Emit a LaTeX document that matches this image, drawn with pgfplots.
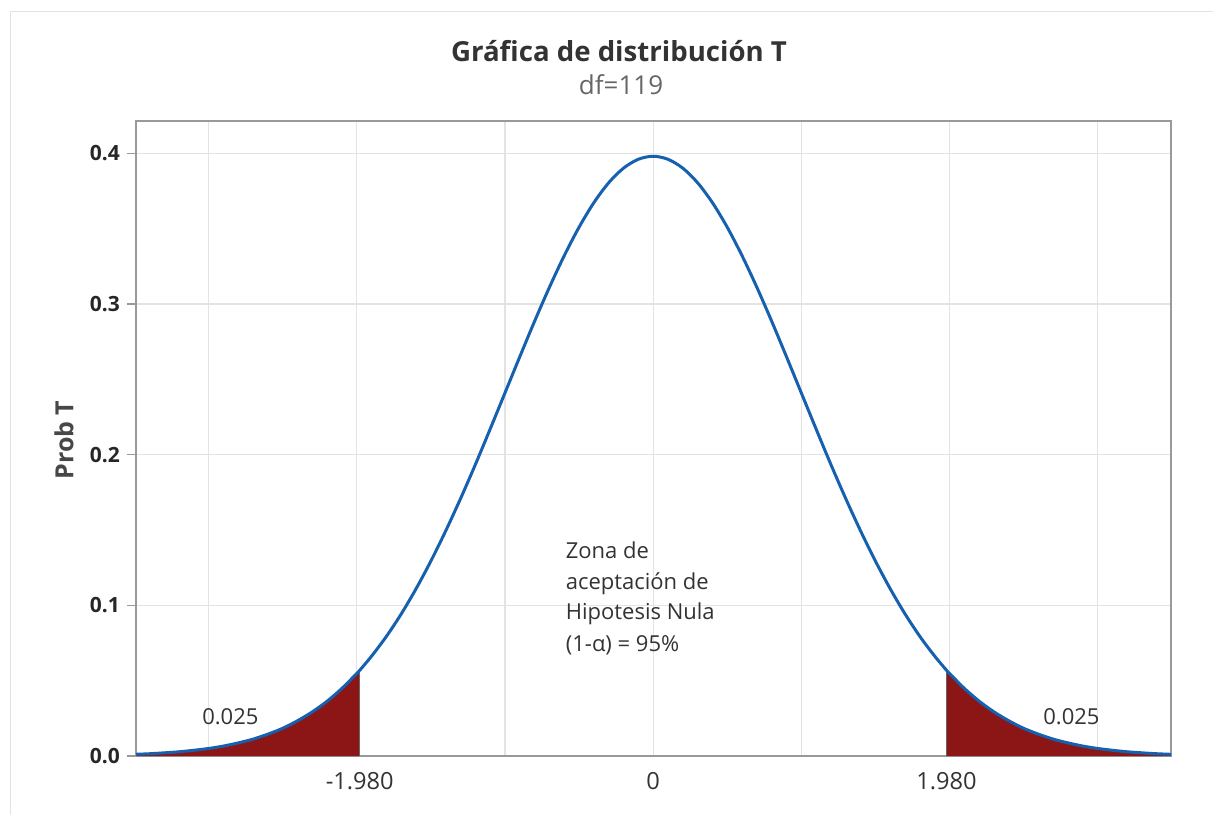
\documentclass[border=0pt]{standalone}
\usepackage{fontspec}
\setmainfont{Open Sans}
\usepackage{pgfplots}
\usepackage{pgfplotstable}
\pgfplotsset{compat=1.18}
\definecolor{curveblue}{HTML}{1660B0}
\definecolor{tailred}{HTML}{8C1515}
\definecolor{framegray}{HTML}{999999}
\definecolor{gridgray}{HTML}{E3E3E3}
\definecolor{txtdark}{HTML}{333333}

\pgfplotstableread{
x y
-3.5 0.0011
-3.4 0.0015
-3.3 0.0021
-3.2 0.0028
-3.1 0.0038
-3.0 0.0050
-2.9 0.0066
-2.8 0.0087
-2.7 0.0112
-2.6 0.0145
-2.5 0.0184
-2.4 0.0234
-2.3 0.0293
-2.2 0.0364
-2.1 0.0449
-2.0 0.0548
-1.98 0.0569
-1.9 0.0663
-1.8 0.0794
-1.7 0.0943
-1.6 0.1110
-1.5 0.1294
-1.4 0.1494
-1.3 0.1708
-1.2 0.1934
-1.1 0.2170
-1.0 0.2410
-0.9 0.2650
-0.8 0.2886
-0.7 0.3111
-0.6 0.3321
-0.5 0.3510
-0.4 0.3673
-0.3 0.3805
-0.2 0.3902
-0.1 0.3961
0 0.3981
0.1 0.3961
0.2 0.3902
0.3 0.3805
0.4 0.3673
0.5 0.3510
0.6 0.3321
0.7 0.3111
0.8 0.2886
0.9 0.2650
1.0 0.2410
1.1 0.2170
1.2 0.1934
1.3 0.1708
1.4 0.1494
1.5 0.1294
1.6 0.1110
1.7 0.0943
1.8 0.0794
1.9 0.0663
1.98 0.0569
2.0 0.0548
2.1 0.0449
2.2 0.0364
2.3 0.0293
2.4 0.0234
2.5 0.0184
2.6 0.0145
2.7 0.0112
2.8 0.0087
2.9 0.0066
3.0 0.0050
3.1 0.0038
3.2 0.0028
3.3 0.0021
3.4 0.0015
3.5 0.0011
}\curve

\pgfplotstableread{
x y
-3.5 0.0011
-3.4 0.0015
-3.3 0.0021
-3.2 0.0028
-3.1 0.0038
-3.0 0.0050
-2.9 0.0066
-2.8 0.0087
-2.7 0.0112
-2.6 0.0145
-2.5 0.0184
-2.4 0.0234
-2.3 0.0293
-2.2 0.0364
-2.1 0.0449
-2.0 0.0548
-1.98 0.0569
}\lefttail

\pgfplotstableread{
x y
1.98 0.0569
2.0 0.0548
2.1 0.0449
2.2 0.0364
2.3 0.0293
2.4 0.0234
2.5 0.0184
2.6 0.0145
2.7 0.0112
2.8 0.0087
2.9 0.0066
3.0 0.0050
3.1 0.0038
3.2 0.0028
3.3 0.0021
3.4 0.0015
3.5 0.0011
}\righttail

\begin{document}
\begin{tikzpicture}
\path[use as bounding box] (0,0) rectangle (606.5pt,407.5pt);
\draw[gridgray, line width=0.8pt] (5.25pt,0) -- (5.25pt,401.75pt) -- (606.5pt,401.75pt);

\node[anchor=base, text=txtdark, font=\fontsize{13.8}{16}\selectfont\bfseries] at (309.5pt,376.5pt) {Gráfica de distribución T};
\node[anchor=base, text=black!60, font=\fontsize{13}{15}\selectfont] at (310.5pt,360pt) {df=119};
\node[rotate=90, anchor=center, text=txtdark!90, font=\fontsize{12.5}{14}\selectfont\bfseries] at (32pt,187.5pt) {Prob T};

\begin{axis}[
  at={(68pt,29.5pt)}, anchor=south west,
  scale only axis, width=517.5pt, height=317.5pt,
  xmin=-3.49, xmax=3.495, ymin=0, ymax=0.4215,
  axis line style={framegray, line width=0.75pt},
  xtick={-1.98,0,1.98},
  xticklabels={-1.980,0,1.980},
  minor xtick={-3,-2,-1,0,1,2,3},
  xmajorgrids=false, xminorgrids=true,
  ytick={0,0.1,0.2,0.3,0.4},
  yticklabels={0.0,0.1,0.2,0.3,0.4},
  ymajorgrids=true,
  grid style={gridgray, line width=0.6pt},
  minor grid style={gridgray, line width=0.6pt},
  tick align=outside,
  x tick style={draw=none},
  minor x tick style={draw=none},
  y tick style={framegray, line width=0.6pt},
  major tick length=4.5pt,
  ytick pos=left, xtick pos=bottom,
  x tick label style={font=\fontsize{11.8}{13}\selectfont, text=txtdark},
  y tick label style={font=\fontsize{10.5}{12}\selectfont\bfseries, text=black!85},
  clip=true,
]
\addplot[fill=tailred, draw=none] table {\lefttail} \closedcycle;
\addplot[fill=tailred, draw=none] table {\righttail} \closedcycle;
\addplot[black!60, line width=0.7pt] coordinates {(-1.98,0) (-1.98,0.0569)};
\addplot[black!60, line width=0.7pt] coordinates {(1.98,0) (1.98,0.0569)};
\addplot[curveblue, line width=1.5pt, smooth] table {\curve};

\node[anchor=base, text=txtdark, font=\fontsize{11}{12}\selectfont] at (axis cs:-2.853,0.0206) {0.025};
\node[anchor=base, text=txtdark, font=\fontsize{11}{12}\selectfont] at (axis cs:2.823,0.0206) {0.025};
\node[anchor=base west, inner sep=0pt, text=txtdark, font=\fontsize{11}{12}\selectfont] at (axis cs:-0.592,0.1314) {Zona de};
\node[anchor=base west, inner sep=0pt, text=txtdark, font=\fontsize{11}{12}\selectfont] at (axis cs:-0.592,0.1108) {aceptación de};
\node[anchor=base west, inner sep=0pt, text=txtdark, font=\fontsize{11}{12}\selectfont] at (axis cs:-0.592,0.0903) {Hipotesis Nula};
\node[anchor=base west, inner sep=0pt, text=txtdark, font=\fontsize{11}{12}\selectfont] at (axis cs:-0.592,0.0697) {(1-α) = 95\%};
\end{axis}
\end{tikzpicture}
\end{document}
